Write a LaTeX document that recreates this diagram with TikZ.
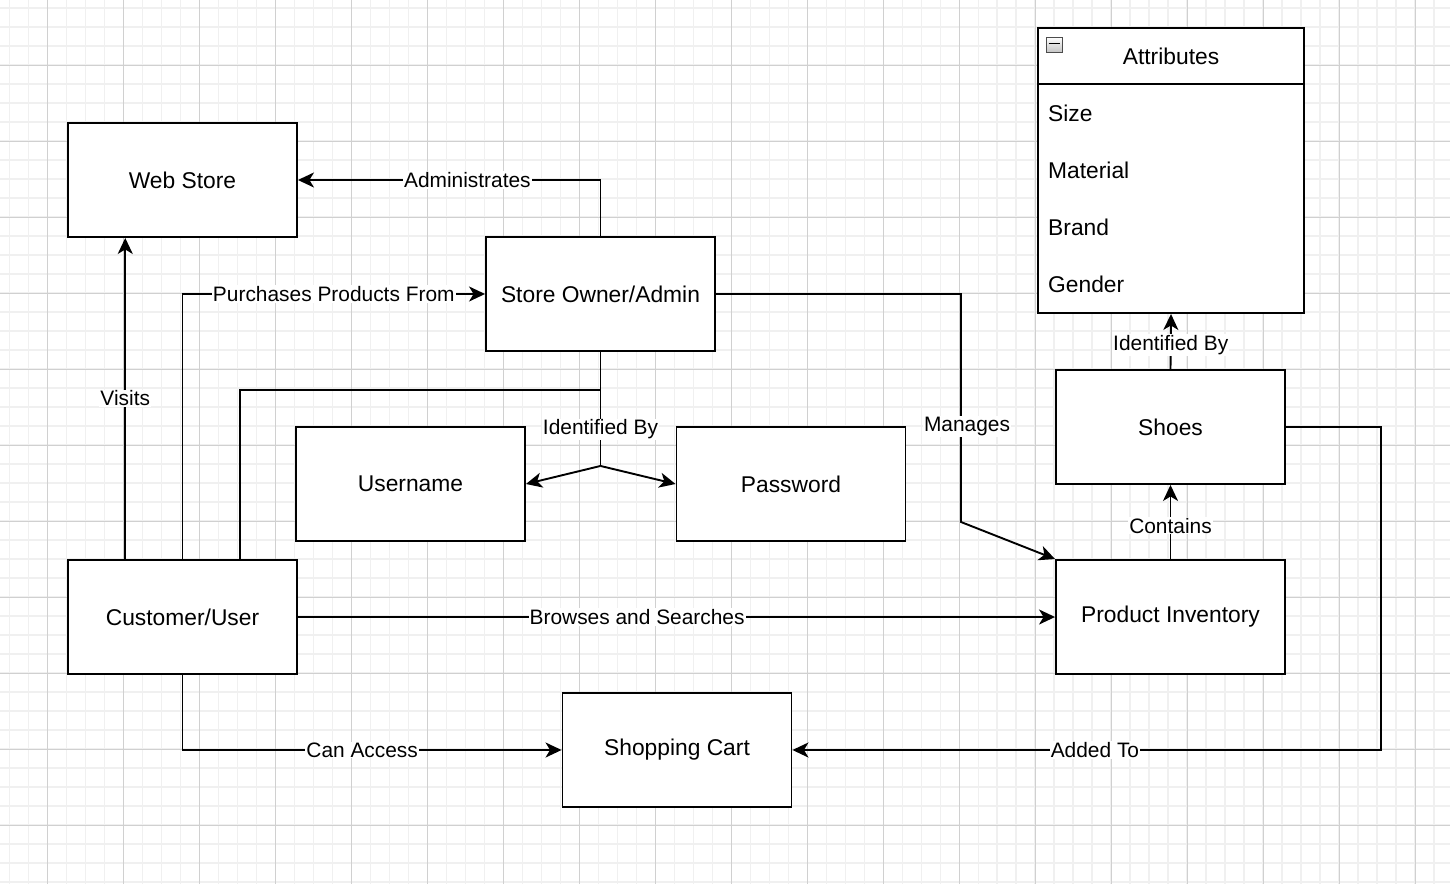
\documentclass[tikz,border=0pt]{standalone}
\usepackage{fontspec}
\setmainfont{Liberation Sans}
\usetikzlibrary{arrows.meta}
\definecolor{gridminor}{HTML}{F0F0F0}
\definecolor{gridmajor}{HTML}{D0D0D0}

\begin{document}
\begin{tikzpicture}
  [x=1pt,y=-1pt,font=\fontsize{22.8}{27}\selectfont,
   box/.style={draw,line width=1.9pt,fill=white,minimum width=229pt,minimum height=114pt,inner sep=0pt},
   lbl/.style={fill=white,inner sep=1pt,font=\fontsize{20.9}{25}\selectfont},
   conn/.style={line width=1.9pt},
   arr/.style={conn,-{Stealth[length=16pt,width=15pt,inset=4.5pt]}}]
  \useasboundingbox (0,0) rectangle (1450,884);
  \fill[white] (0,0) rectangle (1450,884);

  % background grid
  \foreach \i in {0,...,75}
    \draw[gridminor,line width=1.4pt] ({9.7+18.99*\i},0) -- ++(0,884);
  \foreach \i in {0,...,46}
    \draw[gridminor,line width=1.4pt] (0,{8+19*\i}) -- ++(1450,0);
  \foreach \i in {0,...,18}
    \draw[gridmajor,line width=0.8pt] ({47.7+75.97*\i},0) -- ++(0,884);
  \foreach \i in {0,...,10}
    \draw[gridmajor,line width=0.8pt] (0,{65.3+76*\i}) -- ++(1450,0);

  \node[box] (ws) at (182.5,180) {Web Store};
  \node[box] (so) at (600.5,294) {Store Owner/Admin};
  \node[box] (un) at (410.5,484) {Username};
  \node[box] (pw) at (791,484) {Password};
  \node[box] (cu) at (182.5,617) {Customer/User};
  \node[box] (sc) at (677,750) {Shopping Cart};
  \node[box] (pi) at (1170.5,617) {Product Inventory};
  \node[box] (sh) at (1170.5,427) {Shoes};

  % attributes list
  \node[box,minimum width=266pt,minimum height=285pt] (at) at (1171,170.5) {};
  \node (ath) at (1171,56.5) {Attributes};
  \draw[conn] ([yshift=-57pt]at.north west) -- ([yshift=-57pt]at.north east);
  \shade[top color=white,bottom color=gray!45,draw=gray!60!black,line width=1pt] (1046,37) rectangle (1062,52);
  \draw[line width=1.6pt] (1048.5,43.5) -- (1059.5,43.5);
  \foreach \t [count=\i] in {Size,Material,Brand,Gender}
    \node[anchor=west,inner sep=0pt] (row\i) at (1048,{56+57*\i}) {\t};

  \draw[arr] (so.north) |- node[lbl,pos=0.72]{Administrates} (ws.east);
  \draw[arr] ([xshift=-57.25pt]cu.north) -- node[lbl]{Visits} ([xshift=-57.25pt]ws.south);
  \draw[arr] (cu.north) |- node[lbl,pos=0.75]{Purchases Products From} (so.west);
  \coordinate (idy) at ([yshift=-114pt]so.south);
  \coordinate (cj) at ([yshift=-38pt]so.south);
  \draw[conn] ([xshift=57.25pt]cu.north) |- (cj);
  \draw[conn] (so.south) -- node[lbl,pos=0.68]{Identified By} (idy);
  \draw[arr] (idy) -- (un.east);
  \draw[arr] (idy) -- (pw.west);
  \draw[arr] (so.east) -| (961,522) node[lbl,pos=0.79,xshift=6pt]{Manages} -- (pi.north west);
  \draw[arr] (cu.east) -- node[lbl,pos=0.448]{Browses and Searches} (pi.west);
  \draw[arr] (pi.north) -- node[lbl,pos=0.45]{Contains} (sh.south);
  \draw[arr] (sh.north) -- node[lbl,pos=0.44]{Identified By} (at.south);
  \draw[arr] (sh.east) -- ++(95,0) |- node[lbl,pos=0.743]{Added To} (sc.east);
  \draw[arr] (cu.south) |- node[lbl,pos=0.737]{Can Access} (sc.west);
\end{tikzpicture}
\end{document}
